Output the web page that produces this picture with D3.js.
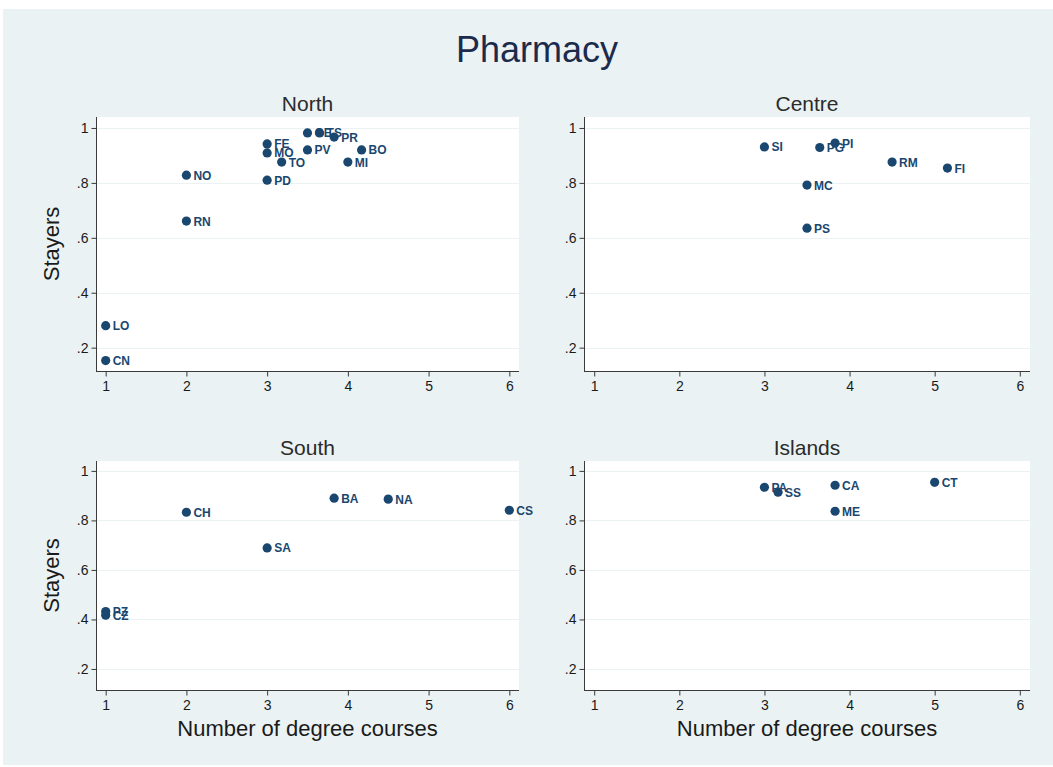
<!DOCTYPE html>
<html>
<head>
<meta charset="utf-8">
<script src="https://cdn.jsdelivr.net/npm/d3@7/dist/d3.min.js"></script>
<style>
  html, body { margin: 0; padding: 0; background: #ffffff; }
  svg { display: block; font-family: "Liberation Sans", Arial, sans-serif; }
</style>
</head>
<body>
<svg id="chart" width="1053" height="767"></svg>
<script>
// Pharmacy: share of stayers vs. number of degree courses, by macro-region
const chartTitle = "Pharmacy";
const regionNames = ["North", "Centre", "South", "Islands"];

const northUnits    = ["LO", "CN", "NO", "RN", "FE", "MO", "PD", "TO", "PV", "GE", "TS", "PR", "MI", "BO"];
const northCourses  = [1, 1, 2, 2, 3, 3, 3, 3.18, 3.5, 3.5, 3.65, 3.83, 4, 4.17];
const northStayers  = [0.28, 0.153, 0.828, 0.661, 0.942, 0.909, 0.81, 0.876, 0.92, 0.982, 0.982, 0.967, 0.876, 0.92];

const centreUnits   = ["SI", "PG", "PI", "MC", "PS", "RM", "FI"];
const centreCourses = [3, 3.65, 3.83, 3.5, 3.5, 4.5, 5.15];
const centreStayers = [0.931, 0.929, 0.945, 0.792, 0.635, 0.876, 0.854];

const southUnits    = ["PZ", "CZ", "CH", "SA", "BA", "NA", "CS"];
const southCourses  = [1, 1, 2, 3, 3.83, 4.5, 6];
const southStayers  = [0.432, 0.417, 0.833, 0.689, 0.89, 0.886, 0.841];

const islandsUnits   = ["PA", "SS", "CA", "ME", "CT"];
const islandsCourses = [3, 3.16, 3.83, 3.83, 5];
const islandsStayers = [0.934, 0.914, 0.942, 0.837, 0.954];

const xTicks = [1, 2, 3, 4, 5, 6];
const yTicks = [0.2, 0.4, 0.6, 0.8, 1];
const xTitle = "Number of degree courses";
const yTitle = "Stayers";

const toRows = (u, x, y) => u.map((d, i) => ({ unit: d, courses: x[i], stayers: y[i] }));
const panelData = [
  toRows(northUnits, northCourses, northStayers),
  toRows(centreUnits, centreCourses, centreStayers),
  toRows(southUnits, southCourses, southStayers),
  toRows(islandsUnits, islandsCourses, islandsStayers)
];

// Colours
const bg = "#eaf2f3";
const ink = "#1a476f";
const gridCol = "#eaf2f3";
const axisCol = "#3a3a3a";

const svg = d3.select("#chart");

// Outer graph region
svg.append("rect").attr("x", 3).attr("y", 9).attr("width", 1050).attr("height", 756).attr("fill", bg);

svg.append("text")
  .attr("x", 537).attr("y", 62)
  .attr("text-anchor", "middle")
  .attr("font-size", 36)
  .attr("fill", "#1c2a4c")
  .text(chartTitle);

// Plot-region geometry for the 2x2 grid
const cols = [{ x0: 96, x1: 519 }, { x0: 584, x1: 1030 }];
const rows = [{ y0: 117, y1: 371 }, { y0: 461, y1: 690 }];

const fmtY = v => v === 1 ? "1" : d3.format(".1f")(v).replace(/^0/, "");

panelData.forEach((data, i) => {
  const c = cols[i % 2], r = rows[Math.floor(i / 2)];
  const x = d3.scaleLinear().domain([0.88, 6.12]).range([c.x0, c.x1]);
  const y = d3.scaleLinear().domain([0.115, 1.04]).range([r.y1, r.y0]);
  const g = svg.append("g");

  g.append("rect")
    .attr("x", c.x0).attr("y", r.y0)
    .attr("width", c.x1 - c.x0).attr("height", r.y1 - r.y0)
    .attr("fill", "#ffffff");

  // horizontal grid
  g.append("g").selectAll("line").data(yTicks).join("line")
    .attr("x1", c.x0).attr("x2", c.x1)
    .attr("y1", d => Math.round(y(d)) + 0.5).attr("y2", d => Math.round(y(d)) + 0.5)
    .attr("stroke", gridCol).attr("stroke-width", 1.2);

  // axes
  const yAxis = g.append("g")
    .attr("transform", `translate(${c.x0 + 0.5},0)`)
    .call(d3.axisLeft(y).tickValues(yTicks).tickFormat(fmtY).tickSize(5).tickPadding(3));
  const xAxis = g.append("g")
    .attr("transform", `translate(0,${r.y1 + 0.5})`)
    .call(d3.axisBottom(x).tickValues(xTicks).tickFormat(d3.format("d")).tickSize(5).tickPadding(5));
  [yAxis, xAxis].forEach(a => {
    a.select(".domain").attr("stroke", axisCol);
    a.selectAll(".tick line").attr("stroke", axisCol);
    a.selectAll(".tick text")
      .attr("font-size", 14)
      .attr("font-family", "'Liberation Sans', Arial, sans-serif")
      .attr("fill", "#1a1a1a");
  });
  yAxis.select(".domain").attr("d", `M0,${r.y0}V${r.y1}`);
  xAxis.select(".domain").attr("d", `M${c.x0},0H${c.x1}`);

  // panel title
  g.append("text")
    .attr("x", (c.x0 + c.x1) / 2).attr("y", r.y0 - 6)
    .attr("text-anchor", "middle")
    .attr("font-size", 21)
    .attr("fill", "#2b2b2b")
    .text(regionNames[i]);

  // markers and unit labels
  const pts = g.append("g").selectAll("g").data(data).join("g")
    .attr("transform", d => `translate(${x(d.courses)},${y(d.stayers)})`);
  pts.append("circle").attr("r", 4.6).attr("fill", ink);
  pts.append("text")
    .attr("x", 7).attr("y", 4.5)
    .attr("font-size", 12).attr("font-weight", "bold")
    .attr("fill", ink)
    .text(d => d.unit);

  if (i % 2 === 0) {
    svg.append("text")
      .attr("transform", `translate(59,${(r.y0 + r.y1) / 2}) rotate(-90)`)
      .attr("text-anchor", "middle")
      .attr("font-size", 22)
      .attr("fill", "#1a1a1a")
      .text(yTitle);
  }
  if (i >= 2) {
    svg.append("text")
      .attr("x", (c.x0 + c.x1) / 2).attr("y", 736)
      .attr("text-anchor", "middle")
      .attr("font-size", 22)
      .attr("fill", "#1a1a1a")
      .text(xTitle);
  }
});
</script>
</body>
</html>
